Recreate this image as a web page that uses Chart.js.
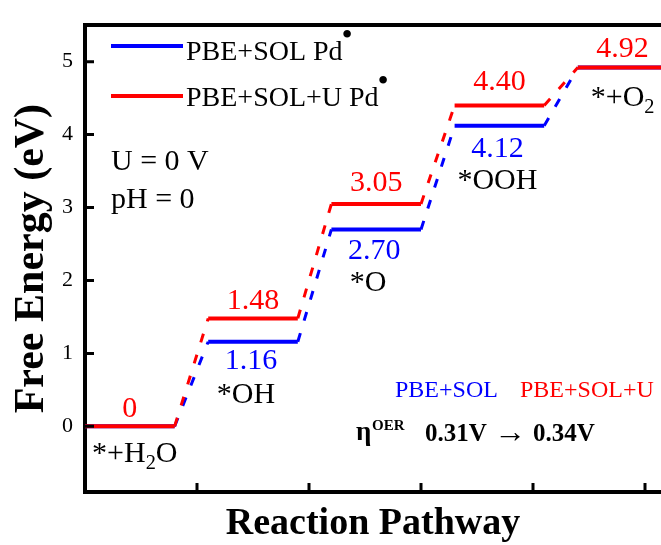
<!DOCTYPE html>
<html>
<head>
<meta charset="utf-8">
<script src="https://cdn.jsdelivr.net/npm/chart.js@4.4.0/dist/chart.umd.min.js"></script>
<style>
  html, body { margin: 0; padding: 0; background: #fff; overflow: hidden; }
  canvas { display: block; }
</style>
</head>
<body>
<canvas id="fe" width="661" height="545"></canvas>
<script>
// free energy steps of the OER on Pd*
const steps = ['*+H_2O', '*OH', '*O', '*OOH', '*+O_2'];
const solG = [0, 1.16, 2.70, 4.12, 4.92];      // PBE+SOL
const solUG = [0, 1.48, 3.05, 4.40, 4.92];     // PBE+SOL+U
const yTicks = [0, 1, 2, 3, 4, 5];
const xTicks = [1, 2, 3, 4, 5];
const seriesNames = ['PBE+SOL Pd', 'PBE+SOL+U Pd'];
const methodNames = ['PBE+SOL', 'PBE+SOL+U'];
const etaValues = ['0.31V', '0.34V'];

const BLUE = '#0000ff', RED = '#ff0000';
const SERIF = "'Liberation Serif', 'Times New Roman', serif";

// each step = flat level 0.8 wide, steps 1.1 apart on the x scale
function levelPoints(g) {
    const pts = [];
    g.forEach((v, i) => {
        pts.push({ x: i * 1.1, y: v });
        pts.push({ x: i * 1.1 + 0.8, y: v });
    });
    return pts;
}

function fmt(v) { return v === 0 ? '0' : v.toFixed(2); }

const segStyle = {
    borderDash: c => c.p0DataIndex % 2 === 1 ? [9, 13] : undefined,
    borderWidth: c => c.p0DataIndex % 2 === 1 ? 3 : 4
};

// text with _2 style subscripts
function richText(ctx, s, x, y, size, align) {
    const parts = s.split(/_(\d)/);
    let w = 0;
    parts.forEach((p, i) => {
        ctx.font = (i % 2 ? size * 0.68 : size) + 'px ' + SERIF;
        w += ctx.measureText(p).width;
    });
    let cx = align === 'center' ? x - w / 2 : x;
    ctx.textAlign = 'left';
    parts.forEach((p, i) => {
        const sub = i % 2 === 1;
        ctx.font = (sub ? size * 0.68 : size) + 'px ' + SERIF;
        ctx.fillText(p, cx, sub ? y + 7 : y);
        cx += ctx.measureText(p).width;
    });
}

const decor = {
    id: 'decor',
    afterDraw(chart) {
        const ctx = chart.ctx;
        const xs = chart.scales.x, ys = chart.scales.y;
        const area = chart.chartArea;
        ctx.save();

        // inward ticks
        ctx.strokeStyle = '#000';
        ctx.lineWidth = 3;
        ctx.beginPath();
        yTicks.forEach(v => {
            const py = ys.getPixelForValue(v);
            ctx.moveTo(area.left, py); ctx.lineTo(area.left + 9, py);
        });
        xTicks.forEach(v => {
            const px = xs.getPixelForValue(v);
            ctx.moveTo(px, area.bottom); ctx.lineTo(px, area.bottom - 9);
        });
        ctx.stroke();

        ctx.textBaseline = 'alphabetic';
        const mid = i => xs.getPixelForValue(i * 1.1 + 0.4);

        // value labels
        const redDy = [9, 9, 13, 15, 11];
        const blueDy = [0, 27, 30, 31, 0];
        ctx.textAlign = 'center';
        ctx.font = '30px ' + SERIF;
        solUG.forEach((v, i) => {
            ctx.fillStyle = RED;
            ctx.fillText(fmt(v), mid(i), ys.getPixelForValue(v) - redDy[i]);
        });
        ctx.fillStyle = BLUE;
        for (let i = 1; i < 4; i++) {
            ctx.fillText(fmt(solG[i]), mid(i) - 2, ys.getPixelForValue(solG[i]) + blueDy[i]);
        }

        // species
        const spDx = [5, -7, -8, -2, 0];
        const spDy = [36, 61, 62, 63, 38];
        ctx.fillStyle = '#000';
        steps.forEach((s, i) => {
            richText(ctx, s, mid(i) + spDx[i], ys.getPixelForValue(solG[i]) + spDy[i], 30, 'center');
        });

        // legend
        const leg = [[BLUE, 46, 60], [RED, 96, 106]];
        leg.forEach((l, i) => {
            ctx.strokeStyle = l[0];
            ctx.lineWidth = 4;
            ctx.beginPath();
            ctx.moveTo(111, l[1]); ctx.lineTo(183, l[1]);
            ctx.stroke();
            ctx.fillStyle = '#000';
            ctx.textAlign = 'left';
            ctx.font = '28px ' + SERIF;
            ctx.fillText(seriesNames[i], 186, l[2]);
            const w = ctx.measureText(seriesNames[i]).width;
            ctx.font = '32px ' + SERIF;
            ctx.fillText('\u2022', 185 + w, l[2] - 15);
        });

        ctx.font = '30px ' + SERIF;
        ctx.fillStyle = '#000';
        ctx.fillText('U = 0 V', 111, 170);
        ctx.fillText('pH = 0', 111, 208);

        // overpotential note
        ctx.font = '24px ' + SERIF;
        ctx.fillStyle = BLUE;
        ctx.fillText(methodNames[0], 395, 397);
        ctx.fillStyle = RED;
        ctx.fillText(methodNames[1], 520, 397);
        ctx.fillStyle = '#000';
        ctx.font = 'bold 27px ' + SERIF;
        ctx.fillText('\u03b7', 356, 440);
        ctx.font = 'bold 15px ' + SERIF;
        ctx.fillText('OER', 372, 430);
        ctx.font = 'bold 25px ' + SERIF;
        ctx.fillText(etaValues[0], 425, 441);
        ctx.fillText(etaValues[1], 533, 441);
        ctx.font = 'bold 32px ' + SERIF;
        ctx.fillText('\u2192', 494, 442);

        ctx.restore();
    }
};

const axisBorder = { display: true, color: '#000', width: 4 };

new Chart(document.getElementById('fe'), {
    type: 'scatter',
    data: {
        datasets: [
            { label: seriesNames[1], data: levelPoints(solUG), showLine: true, borderColor: RED, pointRadius: 0, segment: segStyle },
            { label: seriesNames[0], data: levelPoints(solG), showLine: true, borderColor: BLUE, pointRadius: 0, segment: segStyle }
        ]
    },
    options: {
        responsive: false,
        animation: false,
        layout: { padding: 0 },
        plugins: { legend: { display: false }, tooltip: { enabled: false } },
        scales: {
            x: {
                min: 0, max: 576 / 112,
                grid: { display: false, drawTicks: false },
                border: axisBorder,
                ticks: { display: false },
                title: {
                    display: true, text: 'Reaction Pathway', color: '#000',
                    font: { family: SERIF, size: 38, weight: 'bold', lineHeight: 1 },
                    padding: { top: 0, bottom: 2 }
                },
                afterFit: s => { s.height = 53; }
            },
            x2: {
                position: 'top', min: 0, max: 576 / 112,
                grid: { display: false, drawTicks: false },
                border: axisBorder,
                ticks: { display: false },
                afterFit: s => { s.height = 16; }
            },
            y: {
                min: -0.9, max: 5.5,
                grid: { display: false, drawTicks: false },
                border: axisBorder,
                afterBuildTicks: s => { s.ticks = yTicks.map(v => ({ value: v })); },
                ticks: { color: '#000', padding: 12, font: { family: SERIF, size: 22 } },
                title: {
                    display: true, text: 'Free Energy (eV)', color: '#000',
                    font: { family: SERIF, size: 42, weight: 'bold', lineHeight: 1 },
                    padding: { top: 11, bottom: 0 }
                },
                afterFit: s => { s.width = 85; }
            }
        }
    },
    plugins: [decor]
});
</script>
</body>
</html>
